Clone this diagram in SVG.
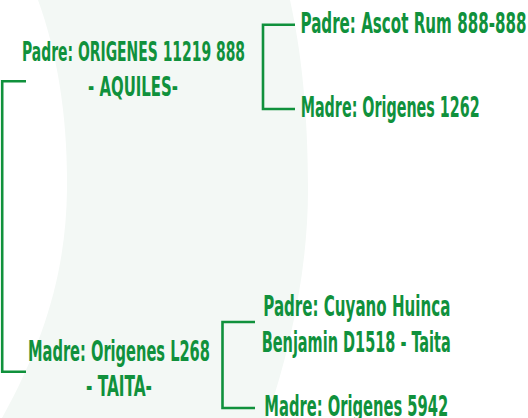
<svg xmlns="http://www.w3.org/2000/svg" width="528" height="418" viewBox="0 0 528 418">
  <style>
    .t { font-family: "DejaVu Sans Condensed", "Liberation Sans Narrow", "Liberation Sans", sans-serif; font-size: 27.5px; font-weight: bold; fill: #10913c; }
    .s { font-size: 26px; }
    .c { fill: none; stroke: #10913c; stroke-width: 2.6; stroke-linecap: butt; stroke-linejoin: miter; }
  </style>
  <rect x="0" y="0" width="528" height="418" fill="#ffffff"/>
  <path d="M38,0 C58,55 68,120 67,190 C66,265 48,335 2,418 L267,418 C290,350 308,270 308,190 C308,110 301,50 290,0 Z" fill="#f3f8f5"/>
  <g id="connectors">
    <path class="c" d="M26,81.3 H2.2 V371.7 H26"/>
    <path class="c" d="M295,24.7 H263 V109 H295"/>
    <path class="c" d="M255,322 H222.5 V408 H255"/>
  </g>
  <g id="node-padre">
    <text class="t s" transform="translate(22,61) scale(0.6,1)" textLength="371.7" lengthAdjust="spacingAndGlyphs">Padre: ORIGENES 11219 888</text>
    <text class="t s" transform="translate(88,96) scale(0.6,1)" textLength="150" lengthAdjust="spacingAndGlyphs">- AQUILES-</text>
  </g>
  <g id="node-padre-padre">
    <text class="t" transform="translate(300.5,33.3) scale(0.6,1)" textLength="376.7" lengthAdjust="spacingAndGlyphs">Padre: Ascot Rum 888-888</text>
  </g>
  <g id="node-padre-madre">
    <text class="t" transform="translate(300.7,117.3) scale(0.6,1)" textLength="298.3" lengthAdjust="spacingAndGlyphs">Madre: Origenes 1262</text>
  </g>
  <g id="node-madre">
    <text class="t" transform="translate(28,360.7) scale(0.6,1)" textLength="303.3" lengthAdjust="spacingAndGlyphs">Madre: Origenes L268</text>
    <text class="t" transform="translate(86,396) scale(0.6,1)" textLength="110" lengthAdjust="spacingAndGlyphs">- TAITA-</text>
  </g>
  <g id="node-madre-padre">
    <text class="t" transform="translate(263.3,315.7) scale(0.6,1)" textLength="311.7" lengthAdjust="spacingAndGlyphs">Padre: Cuyano Huinca</text>
    <text class="t" transform="translate(261.7,351.7) scale(0.6,1)" textLength="315" lengthAdjust="spacingAndGlyphs">Benjamin D1518 - Taita</text>
  </g>
  <g id="node-madre-madre">
    <text class="t" transform="translate(264.3,415.7) scale(0.6,1)" textLength="306.7" lengthAdjust="spacingAndGlyphs">Madre: Origenes 5942</text>
  </g>
</svg>
